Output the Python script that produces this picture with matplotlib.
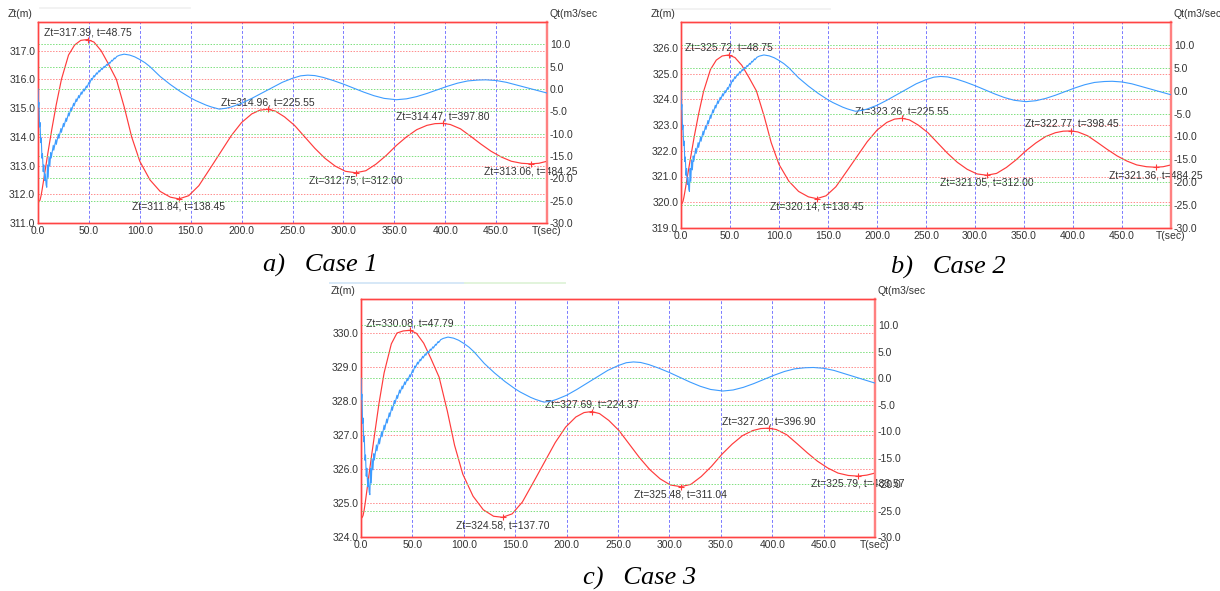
import matplotlib
matplotlib.use("Agg")
import matplotlib.pyplot as plt
from matplotlib.lines import Line2D

plt.rcParams['font.family'] = ['Liberation Sans', 'DejaVu Sans']

# water level Zt (m) in the surge tank
t_z1 = [0, 1, 2, 3, 4, 6, 8, 10, 13.5, 17.8, 23, 30, 36, 42, 48.75,
        55, 62, 69, 77, 85, 92, 100, 110, 120, 130, 138.45,
        148, 158, 170, 180, 190, 200, 210, 218, 225.55,
        233, 242, 252, 262, 272, 282, 292, 302, 312,
        322, 332, 342, 352, 362, 372, 382, 390, 397.8,
        405, 415, 425, 435, 445, 455, 465, 475, 484.25, 492, 500]
zt_case1 = [311.72, 311.74, 311.80, 311.95, 312.15, 312.60, 313.05, 313.50,
            314.25, 315.10, 316.00, 316.85, 317.20, 317.36, 317.39,
            317.30, 317.00, 316.55, 316.00, 315.00, 314.00, 313.15, 312.50, 312.10, 311.90, 311.84,
            311.95, 312.30, 312.95, 313.50, 314.05, 314.50, 314.80, 314.93, 314.96,
            314.90, 314.70, 314.40, 314.00, 313.60, 313.25, 312.98, 312.80, 312.75,
            312.82, 313.05, 313.35, 313.70, 314.00, 314.25, 314.40, 314.46, 314.47,
            314.43, 314.28, 314.02, 313.75, 313.50, 313.30, 313.15, 313.08, 313.06, 313.08, 313.15]

t_z2 = [0, 1, 2, 3, 4, 6, 8, 10, 13.5, 17.8, 23, 30, 36, 42, 48.75,
        55, 62, 69, 77, 85, 92, 100, 110, 120, 130, 138.45,
        148, 158, 170, 180, 190, 200, 210, 218, 225.55,
        233, 242, 252, 262, 272, 282, 292, 302, 312,
        322, 332, 342, 352, 362, 372, 382, 390, 398.45,
        405, 415, 425, 435, 445, 455, 465, 475, 484.25, 492, 500]
zt_case2 = [319.92, 319.95, 320.03, 320.20, 320.42, 320.88, 321.33, 321.78,
            322.55, 323.40, 324.30, 325.15, 325.52, 325.68, 325.72,
            325.62, 325.32, 324.87, 324.32, 323.32, 322.32, 321.47, 320.82, 320.42, 320.21, 320.14,
            320.25, 320.60, 321.25, 321.80, 322.35, 322.80, 323.10, 323.23, 323.26,
            323.20, 323.00, 322.70, 322.30, 321.90, 321.55, 321.28, 321.10, 321.05,
            321.12, 321.35, 321.65, 322.00, 322.30, 322.55, 322.70, 322.76, 322.77,
            322.73, 322.58, 322.32, 322.05, 321.80, 321.60, 321.45, 321.38, 321.36, 321.38, 321.45]

t_z3 = [0, 1, 2, 3, 4, 6, 8, 10, 13.5, 17.5, 22.5, 29.5, 35, 41, 47.79,
        54, 61, 68, 76, 84, 91, 99, 109, 119, 129, 137.7,
        147, 157, 169, 179, 189, 199, 209, 217, 224.37,
        232, 241, 251, 261, 271, 281, 291, 301, 311.04,
        321, 331, 341, 351, 361, 371, 381, 389, 396.9,
        404, 414, 424, 434, 444, 454, 464, 474, 483.57, 492, 500]
zt_case3 = [324.55, 324.57, 324.63, 324.78, 324.98, 325.43, 325.88, 326.33,
            327.08, 327.93, 328.83, 329.68, 330.00, 330.06, 330.08,
            329.99, 329.70, 329.25, 328.70, 327.70, 326.70, 325.85, 325.20, 324.80, 324.61, 324.58,
            324.68, 325.03, 325.68, 326.23, 326.78, 327.23, 327.53, 327.66, 327.69,
            327.63, 327.43, 327.13, 326.73, 326.33, 325.98, 325.71, 325.53, 325.48,
            325.55, 325.78, 326.08, 326.43, 326.73, 326.98, 327.13, 327.19, 327.20,
            327.16, 327.01, 326.75, 326.48, 326.23, 326.03, 325.88, 325.81, 325.79, 325.82, 325.88]

# discharge Qt (m3/sec), the blue curve reads the same in all three cases
t_q = [0, 0.4, 0.9, 1.5, 2.0, 2.7, 3.2, 3.9, 4.4, 5.1, 5.7, 6.5, 7.1, 8.0, 8.6,
       9.3, 10.0, 10.8, 11.6,
       12.5, 13.0, 15.0, 15.5, 17.5, 18.0, 20.0, 20.5, 22.5, 23.0, 25.0, 25.5,
       27.5, 28.0, 30.0, 30.5, 32.5, 33.0, 35.0, 35.5, 37.5, 38.0, 40.0, 40.5,
       42.5, 43.0, 45.0, 45.5, 47.5, 48.0, 50.0, 50.5, 52.5, 53.0, 55.0, 55.5,
       57.5, 58.0, 60.0, 60.5, 62.5, 63.0, 65.0, 65.5, 67.5, 68.0, 70.0, 70.5,
       72.5, 73.0, 75.0, 75.5, 77.5, 80, 84.6, 90, 95, 100, 105, 110, 115, 120,
       125, 130, 135, 140, 145, 150, 155, 160, 165, 170, 178, 185, 190, 195, 200,
       210, 220, 230, 240, 250, 258, 265, 272, 280, 290, 300, 310, 320, 330, 340,
       352, 362, 372, 382, 392, 402, 412, 422, 432, 440, 450, 460, 470, 480, 490, 500]
qt = [0.0, -4.0, -3.0, -8.5, -7.5, -12.0, -11.0, -15.5, -14.5, -18.5, -17.0, -20.5, -19.0, -21.5, -22.0,
      -17.0, -19.8, -15.2, -17.3,
      -14.25, -15.45, -12.6, -13.7, -11.35, -12.4, -10.1, -11.05, -8.85, -9.7, -7.7, -8.45,
      -6.52, -7.26, -5.35, -6.05, -4.18, -4.82, -3.2, -3.8, -2.22, -2.8, -1.45, -1.99,
      -0.67, -1.18, 0.0, -0.45, 0.68, 0.27, 1.48, 1.09, 2.35, 2.0, 3.05, 2.68,
      3.62, 3.3, 4.17, 3.83, 4.65, 4.35, 5.1, 4.8, 5.53, 5.27, 5.98, 5.72,
      6.45, 6.25, 6.95, 6.75, 7.3, 7.55, 7.8, 7.6, 7.2, 6.6, 5.9, 5.0, 3.9, 2.8,
      1.9, 1.0, 0.2, -0.6, -1.3, -2.0, -2.6, -3.1, -3.6, -4.0, -4.5, -4.3, -4.0, -3.6, -3.2,
      -2.1, -0.9, 0.3, 1.5, 2.4, 2.95, 3.1, 3.0, 2.6, 1.9, 1.1, 0.2, -0.7, -1.5, -2.1,
      -2.4, -2.2, -1.7, -1.0, -0.2, 0.6, 1.3, 1.8, 2.0, 2.05, 1.9, 1.5, 0.9, 0.3, -0.3, -0.9]

# marked extremes of Zt
ext_t1 = [48.75, 138.45, 225.55, 312.00, 397.80, 484.25]
ext_z1 = [317.39, 311.84, 314.96, 312.75, 314.47, 313.06]
ext_t2 = [48.75, 138.45, 225.55, 312.00, 398.45, 484.25]
ext_z2 = [325.72, 320.14, 323.26, 321.05, 322.77, 321.36]
ext_t3 = [47.79, 137.70, 224.37, 311.04, 396.90, 483.57]
ext_z3 = [330.08, 324.58, 327.69, 325.48, 327.20, 325.79]

x_ticks = [0, 50, 100, 150, 200, 250, 300, 350, 400, 450, 500]
x_labels = ['0.0', '50.0', '100.0', '150.0', '200.0', '250.0', '300.0',
            '350.0', '400.0', '450.0', 'T(sec)']
q_ticks = [-30, -25, -20, -15, -10, -5, 0, 5, 10]

W, H = 1220, 591
fig = plt.figure(figsize=(12.2, 5.91), dpi=100)

TXT = '#333333'
RED = '#ff3b3b'
BLUE = '#3d9cff'


def rect(l, t, r, b):
    return [l / W, 1 - b / H, (r - l) / W, (b - t) / H]


def panel(box, t_z, zt, zlo, zhi, ext_t, ext_z, caption, cap_xy):
    l, t, r, b = box
    ax = fig.add_axes(rect(l, t, r, b))
    ax.set_xlim(0, 500)
    ax.set_ylim(zlo, zhi)
    z_ticks = list(range(zlo, zhi))
    for z in z_ticks[1:]:
        ax.axhline(z, color='#ff8c8c', lw=0.7, ls=(0, (1.5, 1.5)), zorder=1)
    for x in x_ticks[1:-1]:
        ax.axvline(x, color='#7a7aff', lw=0.7, ls=(0, (3, 2)), zorder=1)
    ax.plot(t_z, zt, color=RED, lw=0.85, zorder=3)
    ax.plot(ext_t, ext_z, '+', color=RED, ms=5, mew=0.8, zorder=4)
    for i in range(len(ext_t)):
        top = i % 2 == 0
        ax.annotate('Zt=%.2f, t=%.2f' % (ext_z[i], ext_t[i]), (ext_t[i], ext_z[i]),
                    xytext=(0, 1.5 if top else -2), textcoords='offset points',
                    ha='center', va='bottom' if top else 'top',
                    fontsize=7.5, color=TXT, zorder=6, annotation_clip=False)
    ax.set_yticks(z_ticks)
    ax.set_yticklabels(['%.1f' % z for z in z_ticks])
    ax.set_xticks(x_ticks)
    ax.set_xticklabels(x_labels)
    ax.tick_params(length=0, labelsize=7.5, colors=TXT, pad=2)

    ax2 = ax.twinx()
    ax2.set_ylim(-30, 15)
    for q in q_ticks[1:]:
        ax2.axhline(q, color='#7ee07e', lw=0.7, ls=(0, (1.5, 1.5)), zorder=1)
    ax2.plot(t_q, qt, color=BLUE, lw=0.8, zorder=3)
    ax2.set_yticks(q_ticks)
    ax2.set_yticklabels(['%.1f' % q for q in q_ticks])
    ax2.tick_params(length=0, labelsize=7.5, colors=TXT, pad=2)

    for a in (ax, ax2):
        for s in ('left', 'top', 'bottom'):
            a.spines[s].set_color('#ff4444')
            a.spines[s].set_linewidth(1.0)
        a.spines['right'].set_color('#ff8080')
        a.spines['right'].set_linewidth(1.6)

    fig.text((l - 30) / W, 1 - (t - 8) / H, 'Zt(m)', fontsize=7.5, color=TXT,
             ha='left', va='center')
    fig.text((r + 2) / W, 1 - (t - 8) / H, 'Qt(m3/sec', fontsize=7.5, color=TXT,
             ha='left', va='center')
    fig.text(cap_xy[0] / W, 1 - cap_xy[1] / H, caption, fontsize=19,
             family='Liberation Serif', style='italic', ha='center', va='center')


panel((38, 22, 547, 223), t_z1, zt_case1, 311, 318, ext_t1, ext_z1,
      'a)   Case 1', (320, 265))
panel((681, 22, 1171, 228), t_z2, zt_case2, 319, 327, ext_t2, ext_z2,
      'b)   Case 2', (948, 267))
panel((361, 299, 875, 537), t_z3, zt_case3, 324, 331, ext_t3, ext_z3,
      'c)   Case 3', (640, 578))

# faint leftovers of the screen capture above the plots
fig.add_artist(Line2D([40 / W, 190 / W], [1 - 8 / H] * 2, color='#f0f0f0', lw=1.2))
fig.add_artist(Line2D([661 / W, 830 / W], [1 - 9 / H] * 2, color='#f0f0f0', lw=1.2))
fig.add_artist(Line2D([330 / W, 465 / W], [1 - 283 / H] * 2, color='#d6e8f7', lw=1.4))
fig.add_artist(Line2D([465 / W, 565 / W], [1 - 283 / H] * 2, color='#e2f4dc', lw=1.4))

fig.savefig('out.png', dpi=100)
